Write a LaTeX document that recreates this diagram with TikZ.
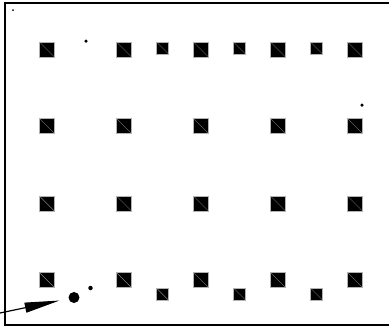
\documentclass[tikz,border=0pt]{standalone}
\usepackage{tikz}
\usetikzlibrary{arrows.meta}

\begin{document}
\begin{tikzpicture}[
  x=1pt, y=-1pt,
  sq/.style={rectangle, fill=black, draw=gray!60, line width=0.6pt, inner sep=0pt,
    path picture={\draw[gray!70, line width=0.35pt] (path picture bounding box.north west) -- (path picture bounding box.south east);}},
  bigsq/.style={sq, minimum size=15pt},
  smallsq/.style={sq, minimum size=12pt},
  spot/.style={circle, fill=black, inner sep=0pt}
]
\useasboundingbox (0,0) rectangle (389,327);
\draw[line width=1.4pt] (5,3) rectangle (395,325);
% grid of big squares
\foreach \r/\y in {1/49.5, 2/126, 3/203.5, 4/280}
  \foreach \c/\x in {1/47, 2/124, 3/201, 4/278, 5/355}
    \node[bigsq] (sq-\r-\c) at (\x,\y) {};
% small squares, top and bottom
\foreach \c/\x in {1/162.5, 2/239.5, 3/316.5} {
  \node[smallsq] (top-\c) at (\x,48) {};
  \node[smallsq] (bot-\c) at (\x,294) {};
}
% specks
\node[spot, minimum size=2pt] (speck-a) at (13,10) {};
\node[spot, minimum size=3.5pt] (speck-b) at (86,41) {};
\node[spot, minimum size=3.5pt] (speck-c) at (362,105) {};
\node[spot, minimum size=4.5pt] (speck-d) at (90.5,288) {};
\node[spot, minimum size=11pt] (target) at (74,297.5) {};
\coordinate (from) at (0,313);
\draw[line width=1.2pt, -{Triangle[length=35pt, width=10pt]}, shorten >=9pt] (from) -- (target);
\end{tikzpicture}
\end{document}
